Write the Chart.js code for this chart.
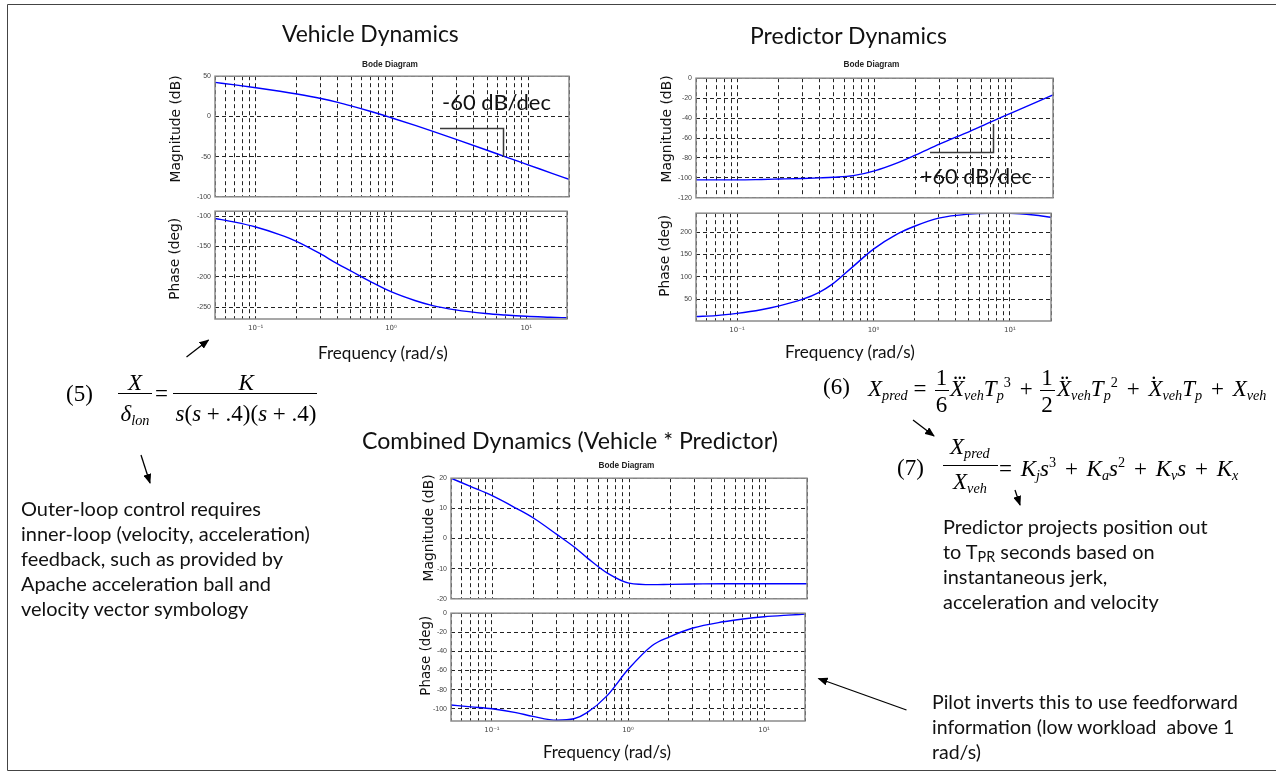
<!DOCTYPE html>
<html>
<head>
<meta charset="utf-8">
<title>Vehicle / Predictor / Combined Bode diagrams</title>
<script src="https://cdn.jsdelivr.net/npm/chart.js@4.4.1/dist/chart.umd.min.js"></script>
<style>
  html,body{margin:0;padding:0;background:#fff;}
  #stage{position:relative;width:1276px;height:773px;overflow:hidden;background:#fff;}
  #stage canvas{position:absolute;z-index:2;}
  .tx{position:absolute;white-space:nowrap;line-height:1;color:#000;z-index:6;}
  .sans{font-family:Lato,'Open Sans',sans-serif;color:#111;}
  .dv{font-family:'DejaVu Sans',sans-serif;color:#111;}
  .bd{font-family:'Liberation Sans',Arial,sans-serif;font-weight:bold;color:#222;}
  .ser{font-family:'Liberation Serif','Times New Roman',serif;}
  .ws{word-spacing:3px;}
  .tx sub{font-size:0.62em;vertical-align:-0.28em;line-height:0;}
  .tx sup{font-size:0.62em;vertical-align:0.6em;line-height:0;}
  .sans sub{font-size:0.72em;vertical-align:-0.2em;}
  .dot{position:relative;display:inline-block;}
  .dot b{position:absolute;left:0.14em;top:-0.68em;font-weight:normal;font-style:normal;letter-spacing:-0.04em;font-size:0.9em;}
  .bar{position:absolute;height:0;border-top:1.3px solid #000;z-index:6;}
  #ov{position:absolute;left:0;top:0;z-index:5;}
</style>
</head>
<body>
<div id="stage">
  <canvas id="vMag"></canvas>
  <canvas id="vPh"></canvas>
  <canvas id="pMag"></canvas>
  <canvas id="pPh"></canvas>
  <canvas id="cMag"></canvas>
  <canvas id="cPh"></canvas>
  <svg id="ov" width="1276" height="773">
    <defs>
      <marker id="ah" markerWidth="10" markerHeight="8" refX="9" refY="4" orient="auto" markerUnits="userSpaceOnUse">
        <path d="M0,0 L10,4 L0,8 z" fill="#000"/>
      </marker>
    </defs>
    <path d="M1276,4.5 H7.5 V770.5 H1276" fill="none" stroke="#444" stroke-width="1"/>
    <!-- slope brackets -->
    <path d="M440,128.5 H503.5 V157" fill="none" stroke="#3a3a3a" stroke-width="1.5"/>
    <path d="M930,152.5 H993.5 V124" fill="none" stroke="#3a3a3a" stroke-width="1.5"/>
    <!-- arrows -->
    <line x1="186.5" y1="357" x2="208.5" y2="340" stroke="#000" stroke-width="1.3" marker-end="url(#ah)"/>
    <line x1="141" y1="455" x2="150" y2="483" stroke="#000" stroke-width="1.3" marker-end="url(#ah)"/>
    <line x1="913" y1="420" x2="934" y2="436" stroke="#000" stroke-width="1.3" marker-end="url(#ah)"/>
    <line x1="1015" y1="490" x2="1020" y2="505" stroke="#000" stroke-width="1.3" marker-end="url(#ah)"/>
    <line x1="906.5" y1="710" x2="818.5" y2="678.5" stroke="#000" stroke-width="1.3" marker-end="url(#ah)"/>
  </svg>
</div>
<script>
// ---------------- data ----------------
const freq = [0.05, 0.07, 0.1, 0.15, 0.2, 0.3, 0.4, 0.5, 0.7, 1, 1.5, 2, 3, 5, 7, 10, 15, 20];

const vehMag   = [42.3, 39.2, 35.7, 31.3, 27.8, 22.2, 17.4, 13.1, 6.1, -2.0, -11.5, -18.6, -28.9, -42.1, -50.9, -60.2, -70.8, -78.3];
const vehPhase = [-104, -110, -118, -130.5, -141.5, -162, -178.5, -190, -207.5, -224.5, -239, -247, -254.5, -260.5, -263, -265, -266.5, -267.5];

const predMag   = [-102, -102, -102, -101.6, -101.2, -100.6, -100, -99.4, -97.8, -93, -84.5, -77, -66, -53, -44, -34.8, -24.3, -16.8];
const predPhase = [12, 14, 19, 27, 35, 50, 66, 84, 122, 162, 196, 213, 231, 240, 241.5, 241.5, 238, 233];

const combMag   = [20, 17.2, 14.2, 10, 6.8, 1.2, -2.9, -6.6, -11.6, -14.8, -15.3, -15.2, -15.1, -15, -15, -15, -15, -15];
const combPhase = [-96, -98, -100, -104, -108, -112, -110.5, -104, -86.5, -59, -34, -25, -15.5, -9, -6, -3.7, -2, -1];

const freqTicks = [0.05, 0.06, 0.07, 0.08, 0.09, 0.1, 0.2, 0.3, 0.4, 0.5, 0.6, 0.7, 0.8, 0.9,
                   1, 2, 3, 4, 5, 6, 7, 8, 9, 10, 20];
const decadeValues = [0.1, 1, 10];
const decadeLabels = ['10⁻¹', '10⁰', '10¹'];

const vehMagTicks   = [-100, -50, 0, 50];
const vehPhaseTicks = [-250, -200, -150, -100];
const predMagTicks  = [-120, -100, -80, -60, -40, -20, 0];
const predPhaseTicks = [50, 100, 150, 200];
const combMagTicks  = [-20, -10, 0, 10, 20];
const combPhaseTicks = [-100, -80, -60, -40, -20, 0];

// ---------------- charts ----------------
const framePlugin = {
  id: 'frame',
  afterDraw(c) {
    const a = c.chartArea, x = c.ctx;
    x.save();
    x.setLineDash([]);
    x.strokeStyle = '#8a8a8a';
    x.lineWidth = 1.5;
    x.strokeRect(a.left, a.top, a.right - a.left, a.bottom - a.top);
    x.restore();
  }
};

function decadeLabel(v) {
  for (let i = 0; i < decadeValues.length; i++) {
    if (Math.abs(v - decadeValues[i]) < 1e-9) return decadeLabels[i];
  }
  return '';
}

function bode(id, box, yMin, yMax, yTicks, values, showX, canvasLeft, canvasBottom) {
  const cv = document.getElementById(id);
  const padTop = 6, padRight = 3;
  const top = box.t - padTop;
  const bottom = showX ? canvasBottom : box.b + 6;
  const W = box.r - canvasLeft + padRight, H = bottom - top;
  cv.style.left = canvasLeft + 'px';
  cv.style.top = top + 'px';
  cv.width = W; cv.height = H;
  cv.style.width = W + 'px'; cv.style.height = H + 'px';
  const yW = box.l - canvasLeft, xH = bottom - box.b;
  const gridOpts = { color: '#222', lineWidth: 1, drawTicks: false };
  return new Chart(cv, {
    type: 'line',
    data: {
      datasets: [{
        data: freq.map((f, i) => ({ x: f, y: values[i] })),
        borderColor: '#0000ff',
        borderWidth: 1.4,
        pointRadius: 0,
        cubicInterpolationMode: 'monotone',
        fill: false
      }]
    },
    options: {
      responsive: false,
      animation: false,
      devicePixelRatio: 1,
      layout: { padding: { top: padTop, right: padRight, left: 0, bottom: 0 } },
      plugins: { legend: { display: false }, tooltip: { enabled: false }, title: { display: false } },
      scales: {
        x: {
          type: 'logarithmic', min: 0.05, max: 20,
          afterBuildTicks: s => { s.ticks = freqTicks.map(v => ({ value: v })); },
          afterFit: s => { s.height = xH; },
          grid: gridOpts,
          border: { display: false, dash: [4, 3] },
          ticks: {
            display: showX, autoSkip: false, maxRotation: 0, minRotation: 0, padding: 5,
            font: { size: 7, family: 'DejaVu Sans' }, color: '#444',
            callback: v => decadeLabel(v)
          }
        },
        y: {
          min: yMin, max: yMax,
          afterBuildTicks: s => { s.ticks = yTicks.map(v => ({ value: v })); },
          afterFit: s => { s.width = yW; },
          grid: gridOpts,
          border: { display: false, dash: [4, 3] },
          ticks: {
            padding: 4, autoSkip: false,
            font: { size: 7, family: 'Liberation Sans' }, color: '#444',
            callback: v => String(v)
          }
        }
      }
    },
    plugins: [framePlugin]
  });
}

bode('vMag', { l: 215, t: 74, r: 569, b: 199 }, -100, 50, vehMagTicks, vehMag, false, 168);
bode('vPh',  { l: 215, t: 209, r: 569, b: 319 }, -269.5, -92, vehPhaseTicks, vehPhase, true, 168, 345);
bode('pMag', { l: 696, t: 76, r: 1053, b: 200 }, -120, 0, predMagTicks, predMag, false, 658);
bode('pPh',  { l: 696, t: 211, r: 1053, b: 321 }, 2, 242, predPhaseTicks, predPhase, true, 658, 345);
bode('cMag', { l: 451, t: 476, r: 807, b: 601 }, -20, 20, combMagTicks, combMag, false, 420);
bode('cPh',  { l: 451, t: 611, r: 807, b: 721 }, -112.8, 0, combPhaseTicks, combPhase, true, 420, 745);

// ---------------- text ----------------
const stage = document.getElementById('stage');
function measureSize(cls, html, w) {
  const el = document.createElement('div');
  el.className = 'tx ' + cls;
  el.innerHTML = html;
  el.style.fontSize = '100px';
  stage.appendChild(el);
  const w0 = el.offsetWidth;
  stage.removeChild(el);
  return 100 * w / w0;
}
function put(cls, html, x, cy, opt) {
  opt = opt || {};
  const el = document.createElement('div');
  el.className = 'tx ' + cls;
  el.innerHTML = html;
  stage.appendChild(el);
  let size = opt.size;
  if (opt.w) size = measureSize(cls, html, opt.w);
  if (size) el.style.fontSize = size + 'px';
  const w = el.offsetWidth, h = el.offsetHeight;
  const left = opt.anchor === 'center' ? x - w / 2 : x;
  el.style.left = left + 'px';
  el.style.top = (cy - h / 2) + 'px';
  if (opt.rot) el.style.transform = 'rotate(-90deg)';
  return el;
}
function bar(x1, x2, y) {
  const d = document.createElement('div');
  d.className = 'bar';
  d.style.left = x1 + 'px'; d.style.width = (x2 - x1) + 'px'; d.style.top = y + 'px';
  stage.appendChild(d);
}

// titles
put('sans', 'Vehicle Dynamics', 282, 33, { w: 177 });
put('sans', 'Predictor Dynamics', 750, 35, { w: 197 });
put('sans', 'Combined Dynamics (Vehicle * Predictor)', 362, 440, { w: 416 });
put('bd', 'Bode Diagram', 390, 65, { w: 56, anchor: 'center' });
put('bd', 'Bode Diagram', 871.5, 65, { w: 56, anchor: 'center' });
put('bd', 'Bode Diagram', 626.5, 465.5, { w: 56, anchor: 'center' });

// axis titles
put('dv', 'Magnitude (dB)', 175, 128.5, { w: 107, anchor: 'center', rot: true });
put('dv', 'Phase (deg)', 175, 259, { w: 82, anchor: 'center', rot: true });
put('dv', 'Magnitude (dB)', 666, 128.5, { w: 107, anchor: 'center', rot: true });
put('dv', 'Phase (deg)', 665, 256, { w: 82, anchor: 'center', rot: true });
put('dv', 'Magnitude (dB)', 428, 528, { w: 107, anchor: 'center', rot: true });
put('dv', 'Phase (deg)', 425.5, 655, { w: 80, anchor: 'center', rot: true });
put('sans', 'Frequency (rad/s)', 318, 352, { w: 130 });
put('sans', 'Frequency (rad/s)', 785, 351, { w: 130 });
put('sans', 'Frequency (rad/s)', 543, 752, { w: 128 });

// slope notes
put('sans', '-60 dB/dec', 442, 102, { w: 109 });
put('sans', '+60 dB/dec', 920, 176.5, { w: 112 });

// paragraphs
const p1 = ['Outer-loop control requires', 'inner-loop (velocity, acceleration)',
            'feedback, such as provided by', 'Apache acceleration ball and', 'velocity vector symbology'];
const s1 = measureSize('sans', p1[1], 289);
p1.forEach((t, i) => put('sans', t, 21, 507.5 + 25 * i, { size: s1 }));

const p2 = ['Predictor projects position out', 'to T<sub>PR</sub> seconds based on',
            'instantaneous jerk,', 'acceleration and velocity'];
const s2 = measureSize('sans', p2[0], 265);
p2.forEach((t, i) => put('sans', t, 943, 526.7 + 25 * i, { size: s2 }));

const p3 = ['Pilot inverts this to use feedforward', 'information (low workload&nbsp; above 1', 'rad/s)'];
const s3 = measureSize('sans', p3[0], 306);
p3.forEach((t, i) => put('sans', t, 932, 701.7 + 25 * i, { size: s3 }));

// equation (5)
const ES = 23;
put('ser', '(5)', 66, 393, { size: ES });
put('ser', '<i>X</i>', 135, 382, { size: ES, anchor: 'center' });
bar(118, 152, 393);
put('ser', '<i>δ</i><sub><i>lon</i></sub>', 135, 413, { size: ES, anchor: 'center' });
put('ser', '=', 155, 393, { size: ES });
put('ser', '<i>K</i>', 246, 382, { size: ES, anchor: 'center' });
bar(173, 317, 393);
put('ser', '<i>s</i>(<i>s</i> + .4)(<i>s</i> + .4)', 246, 413, { size: ES, anchor: 'center' });

// equation (6)
put('ser', '(6)', 823, 386, { size: ES });
put('ser', '<i>X</i><sub><i>pred</i></sub> =', 868, 388, { size: ES });
put('ser', '1', 941.7, 377, { size: ES, anchor: 'center' });
bar(935, 949, 390);
put('ser', '6', 941.7, 404, { size: ES, anchor: 'center' });
put('ser ws', '<span class="dot"><i>X</i><b>...</b></span><sub><i>veh</i></sub><i>T</i><sub><i>p</i></sub><sup>3</sup> +', 950, 388, { size: ES });
put('ser', '1', 1047.3, 377, { size: ES, anchor: 'center' });
bar(1040, 1055, 390);
put('ser', '2', 1047.3, 404, { size: ES, anchor: 'center' });
put('ser ws', '<span class="dot"><i>X</i><b>..</b></span><sub><i>veh</i></sub><i>T</i><sub><i>p</i></sub><sup>2</sup> + <span class="dot"><i>X</i><b>.</b></span><sub><i>veh</i></sub><i>T</i><sub><i>p</i></sub> + <i>X</i><sub><i>veh</i></sub>', 1057, 388, { size: ES });

// equation (7)
put('ser', '(7)', 897, 467, { size: ES });
put('ser', '<i>X</i><sub><i>pred</i></sub>', 970, 446, { size: ES, anchor: 'center' });
bar(943, 998, 465);
put('ser', '<i>X</i><sub><i>veh</i></sub>', 970, 481, { size: ES, anchor: 'center' });
put('ser ws', '= <i>K</i><sub><i>j</i></sub><i>s</i><sup>3</sup> + <i>K</i><sub><i>a</i></sub><i>s</i><sup>2</sup> + <i>K</i><sub><i>v</i></sub><i>s</i> + <i>K</i><sub><i>x</i></sub>', 999, 468, { size: ES });
</script>
</body>
</html>
